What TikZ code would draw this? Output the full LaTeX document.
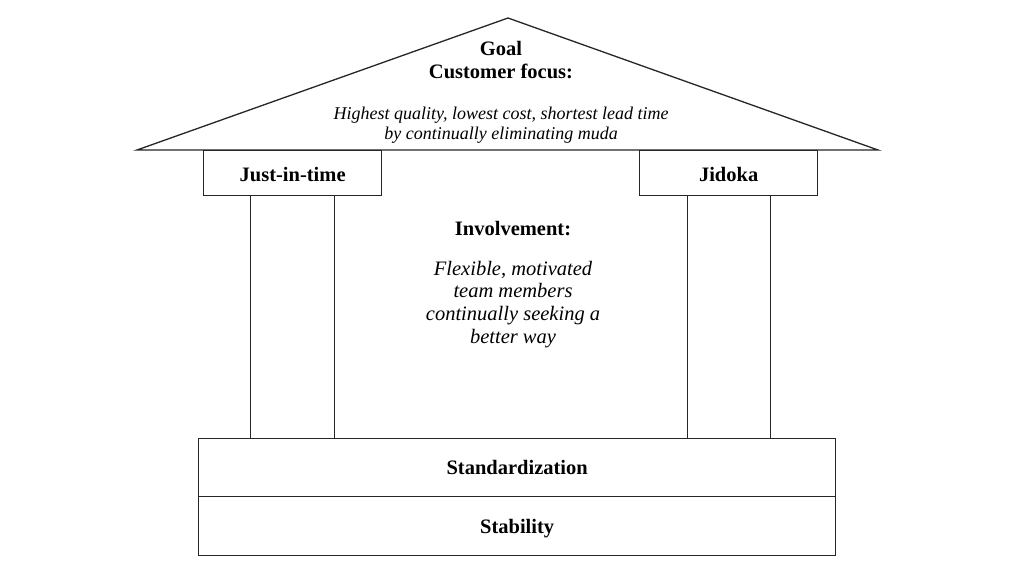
\documentclass[tikz,border=0pt]{standalone}
\usepackage{fontspec}
\setmainfont{Liberation Serif}
\begin{document}
\begin{tikzpicture}[x=1pt,y=-1pt,
  line/.style={draw=black!85, line width=1.3pt},
  lbl/.style={font=\fontsize{20.5}{22}\selectfont\bfseries, inner sep=0pt, anchor=base},
  itl/.style={font=\fontsize{18}{20}\selectfont\itshape, inner sep=0pt, anchor=base},
  itlb/.style={font=\fontsize{20.5}{23}\selectfont\itshape, inner sep=0pt, anchor=base}]
\useasboundingbox (0,0) rectangle (1024,576);
\fill[white] (0,0) rectangle (1024,576);
% roof
\draw[line, line join=miter] (137,150) -- (508,18) -- (878,150) -- cycle;
% caps
\node[line, minimum width=178pt, minimum height=45pt, anchor=north west] (jit) at (203,150) {};
\node[line, minimum width=178pt, minimum height=45pt, anchor=north west] (jid) at (639,150) {};
\node[lbl] (jitl) at (jit.center |- 0,181) {Just-in-time};
\node[lbl] (jidl) at (jid.center |- 0,181) {Jidoka};
% pillars
\node[line, minimum width=84pt, minimum height=243pt, anchor=north west] (lp) at (250,195) {};
\node[line, minimum width=83pt, minimum height=243pt, anchor=north west] (rp) at (687,195) {};
% base
\node[line, minimum width=637pt, minimum height=58pt, anchor=north west] (std) at (198,438) {};
\node[line, minimum width=637pt, minimum height=59pt, anchor=north west] (stb) at (198,496) {};
\node[lbl] (stdl) at (std.center |- 0,474) {Standardization};
\node[lbl] (stbl) at (stb.center |- 0,533) {Stability};
% roof text
\node[lbl] (goal) at (501,55.5) {Goal};
\node[lbl] (cf) at (501,78) {Customer focus:};
\node[itl] (hq1) at (501,119) {Highest quality, lowest cost, shortest lead time};
\node[itl] (hq2) at (501,139.5) {by continually eliminating muda};
% involvement
\node[lbl] (inv) at (513,235.5) {Involvement:};
\node[itlb] (fm1) at (513,275) {Flexible, motivated};
\node[itlb] (fm2) at (513,297.7) {team members};
\node[itlb] (fm3) at (513,320.4) {continually seeking a};
\node[itlb] (fm4) at (513,343) {better way};
\end{tikzpicture}
\end{document}
